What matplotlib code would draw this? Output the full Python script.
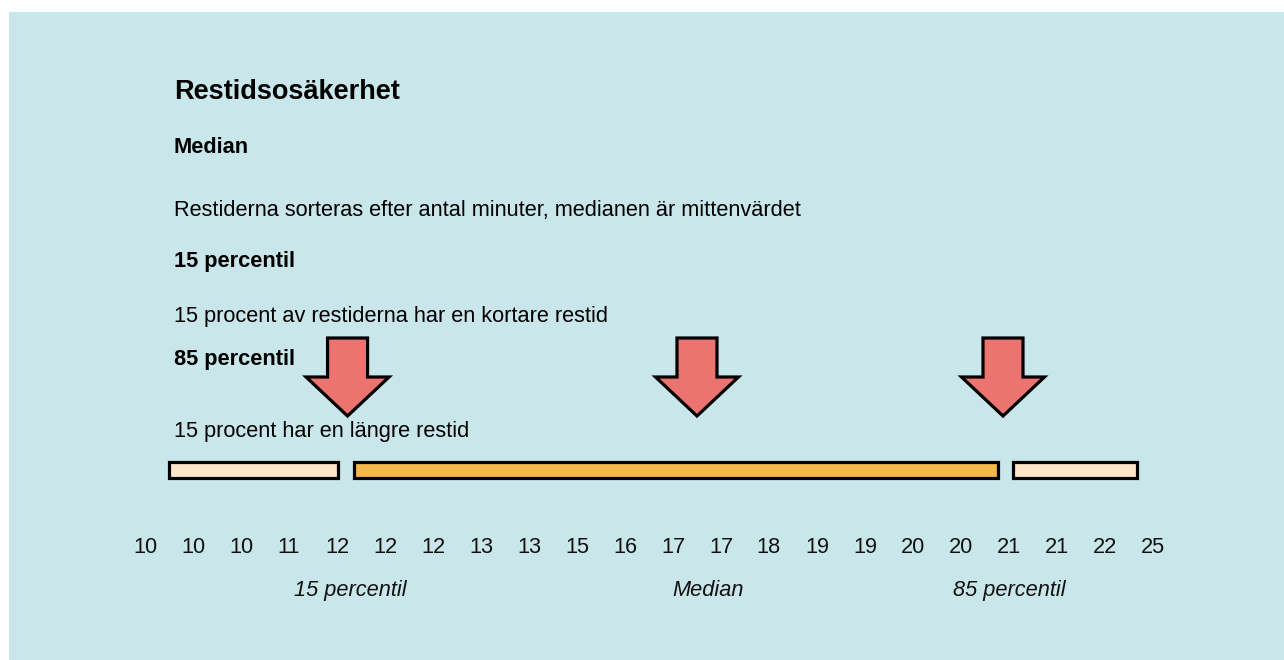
import matplotlib
matplotlib.use("Agg")
import matplotlib.pyplot as plt
from matplotlib.patches import Rectangle, Polygon

# ---- data ----
times = [10, 10, 10, 11, 12, 12, 12, 13, 13, 15, 16, 17, 17, 18, 19, 19, 20, 20, 21, 21, 22, 25]
segment_starts = [0.5, 4.35, 18.08]      # category-index units
segment_ends = [4.02, 17.77, 20.67]
segment_colors = ["#FFE5C8", "#F5B64A", "#FFE5C8"]
marker_pos = [4.22, 11.5, 17.875]        # arrows (15 pct, median, 85 pct)
marker_labels = ["15 percentil", "Median", "85 percentil"]
label_pos = [4.27, 11.73, 18.01]

title = "Restidsosäkerhet"
blocks = [
    ("Median", "bold", 153),
    ("Restiderna sorteras efter antal minuter, medianen är mittenvärdet", "normal", 216),
    ("15 percentil", "bold", 267),
    ("15 procent av restiderna har en kortare restid", "normal", 322),
    ("85 percentil", "bold", 365),
    ("15 procent har en längre restid", "normal", 437),
]

# ---- style ----
W, H = 1284, 660
BG = "#C9E6EA"
ARROW = "#EC7470"
FONT = "Liberation Sans"
FS = 15.7
LW = 2.3
plt.rcParams["font.family"] = [FONT, "DejaVu Sans"]

fig = plt.figure(figsize=(W / 100, H / 100), dpi=100)
fig.patch.set_facecolor("white")

ax = fig.add_axes([0, 0, 1, 1])
ax.set_facecolor("none")
step = 48.0
x0 = -145 / step
ax.set_xlim(x0, x0 + W / step)
ax.set_ylim(H, 0)
ax.axis("off")

ax.add_patch(Rectangle((9 / W, 0), 1, (H - 12) / H, transform=fig.transFigure,
                       facecolor=BG, edgecolor="none", zorder=0, clip_on=False))

# bars
ax.barh([469.5] * len(segment_starts),
        [e - s for s, e in zip(segment_starts, segment_ends)],
        left=segment_starts, height=16.0, color=segment_colors,
        edgecolor="black", linewidth=LW, zorder=3)

# arrows
shaft_hw = 20 / step
head_hw = 41.5 / step
top_y, neck_y, tip_y = 338, 377, 416
for cx in marker_pos:
    verts = [(cx - shaft_hw, top_y), (cx + shaft_hw, top_y), (cx + shaft_hw, neck_y),
             (cx + head_hw, neck_y), (cx, tip_y), (cx - head_hw, neck_y),
             (cx - shaft_hw, neck_y)]
    ax.add_patch(Polygon(verts, closed=True, facecolor=ARROW, edgecolor="black",
                         linewidth=LW, joinstyle="miter", zorder=4))

# category tick labels
for i, t in enumerate(times):
    ax.text(i, 553, str(t), ha="center", va="baseline", fontsize=FS,
            color="#111111", zorder=5)

# italic labels
for p, lab in zip(label_pos, marker_labels):
    ax.text(p, 596, lab, ha="center", va="baseline", fontsize=FS,
            style="italic", color="#111111", zorder=5)

# text blocks
fig.text(174 / W, 1 - 99 / H, title, fontsize=19.5, fontweight="bold",
         va="baseline", ha="left", color="black")
for txt, wt, base in blocks:
    fig.text(174 / W, 1 - base / H, txt, fontsize=FS, fontweight=wt,
             va="baseline", ha="left", color="black")

fig.savefig("out.png", dpi=100, facecolor=fig.get_facecolor())
